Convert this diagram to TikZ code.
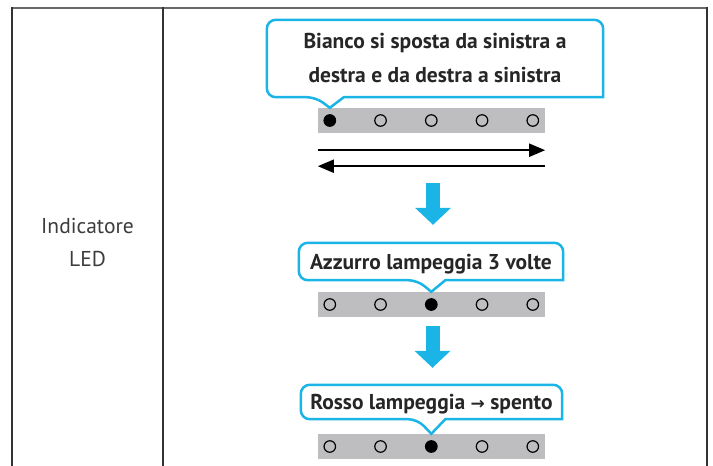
\documentclass[tikz,border=0pt]{standalone}
\usepackage{fontspec}
\setmainfont{PT Sans}
\newfontfamily\arrowfont{DejaVu Sans}
\usepackage{xcolor}
\usetikzlibrary{arrows.meta, positioning, calc}
\definecolor{ledblue}{RGB}{27,180,230}
\definecolor{stripgray}{RGB}{190,190,192}
\definecolor{rulegray}{RGB}{105,105,105}
\definecolor{textgray}{RGB}{60,60,60}
% speech bubble round a text node, pointer ending at a coordinate
\newcommand{\bubble}[2]{%
  \draw[callline] (#2) -- ($(#2 |- #1.south)+(14,0)$) -- (#1.south east) [rounded corners=9pt] -- (#1.north east) -- (#1.north west) -- (#1.south west) -- ($(#2 |- #1.south)+(-14,0)$) [sharp corners] -- cycle;}

\begin{document}
\begin{tikzpicture}[x=1pt, y=-1pt,
  callbox/.style={inner sep=0pt, align=center, font=\fontsize{21.5}{34}\selectfont\bfseries, text=black!85},
  oneline/.style={callbox, text height=15pt, text depth=0pt},
  callline/.style={draw=ledblue, line width=2.5pt},
  strip/.style={fill=stripgray, minimum width=227pt, minimum height=25pt, inner sep=0pt},
  led/.style={circle, draw, line width=1.2pt, minimum size=11.5pt, inner sep=0pt},
  ledon/.style={led, fill=black},
  arrow/.style={-{Triangle[length=16pt, width=13pt]}, line width=2pt},
  bigarrow/.style={draw=ledblue, line width=14pt, -{Triangle[length=17pt, width=35pt]}}]
  \useasboundingbox (0,0) rectangle (713,466);
  % Table
  \draw[rulegray, line width=2pt] (11,7.5) -- (708,7.5);
  \draw[black!80, line width=1.5pt] (12,7) -- (12,466);
  \draw[black!80, line width=1.5pt] (163,7) -- (163,466);
  \draw[black!80, line width=1.5pt] (707,7) -- (707,466);
  \node[font=\fontsize{21.5}{33}\selectfont, text=textgray, align=center] (rowlabel) at (87.5,242) {Indicatore\\LED};
  % Step 1
  \node[callbox, minimum width=336pt, minimum height=77pt] (bubble1) at (435,58.5) {Bianco si sposta da sinistra a\\destra e da destra a sinistra};
  \node[strip] (strip1) at (431.5,120.5) {};
  \foreach \i/\st in {1/ledon, 2/led, 3/led, 4/led, 5/led}
    \node[\st] (led1\i) at ($(strip1.west)+({12+50.75*(\i-1)},0)$) {};
  \coordinate (tip1) at (strip1.north -| led11);
  \bubble{bubble1}{tip1}
  \coordinate (sweepw1) at ($(strip1.south west)+(0,17)$);
  \coordinate (sweepe1) at ($(strip1.south east)+(0,17)$);
  \coordinate (sweepw2) at ($(strip1.south west)+(0,33)$);
  \coordinate (sweepe2) at ($(strip1.south east)+(0,33)$);
  \draw[arrow] (sweepw1) -- (sweepe1);
  \draw[arrow] (sweepe2) -- (sweepw2);
  % Step 2
  \node[oneline, minimum width=264pt, minimum height=37pt] (bubble2) at (431,261.5) {Azzurro lampeggia 3 volte};
  \node[strip] (strip2) at (431.5,304.5) {};
  \foreach \i/\st in {1/led, 2/led, 3/ledon, 4/led, 5/led}
    \node[\st] (led2\i) at ($(strip2.west)+({12+50.75*(\i-1)},0)$) {};
  \coordinate (tip2) at (strip2.north -| led23);
  \bubble{bubble2}{tip2}
  % Step 3
  \node[oneline, minimum width=261pt, minimum height=34pt] (bubble3) at (431.5,402) {Rosso lampeggia {\arrowfont\bfseries\fontsize{17}{20}\selectfont →} spento};
  \node[strip] (strip3) at (431.5,446.5) {};
  \foreach \i/\st in {1/led, 2/led, 3/ledon, 4/led, 5/led}
    \node[\st] (led3\i) at ($(strip3.west)+({12+50.75*(\i-1)},0)$) {};
  \coordinate (tip3) at (strip3.north -| led33);
  \bubble{bubble3}{tip3}
  % Flow arrows
  \draw[bigarrow, shorten <=50pt, shorten >=18pt] ([xshift=1.5pt]strip1.south) -- ([xshift=1.5pt]strip1.south |- bubble2.north);
  \draw[bigarrow, shorten <=9pt, shorten >=17pt] ([xshift=1pt]strip2.south) -- ([xshift=1pt]strip2.south |- bubble3.north);
\end{tikzpicture}
\end{document}
